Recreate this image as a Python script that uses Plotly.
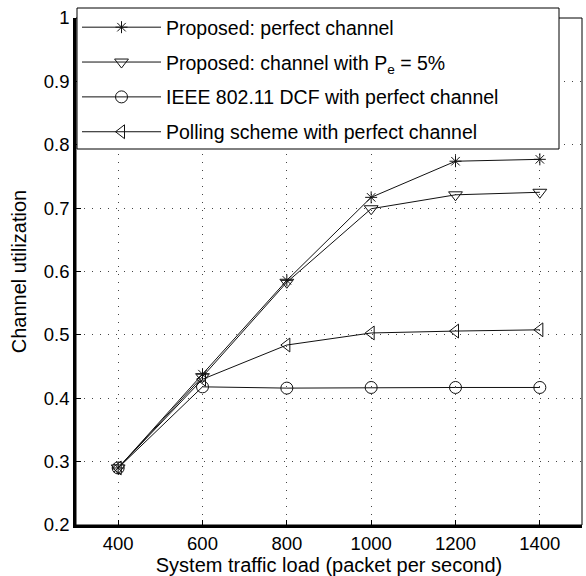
import plotly.graph_objects as go

load = [400, 600, 800, 1000, 1200, 1400]
proposed_perfect = [0.290, 0.438, 0.586, 0.717, 0.774, 0.777]
proposed_pe5 = [0.290, 0.434, 0.583, 0.699, 0.721, 0.725]
dcf_perfect = [0.290, 0.418, 0.416, 0.417, 0.417, 0.417]
polling_perfect = [0.290, 0.430, 0.484, 0.503, 0.506, 0.508]

names = [
    "Proposed: perfect channel",
    "Proposed: channel with P<sub>e</sub> = 5%",
    "IEEE 802.11 DCF with perfect channel",
    "Polling scheme with perfect channel",
]
series = [proposed_perfect, proposed_pe5, dcf_perfect, polling_perfect]
symbols = ["asterisk-open", "triangle-down-open", "circle-open", "triangle-left-open"]
sizes = [10, 12, 12, 12]

yticks = [0.2, 0.3, 0.4, 0.5, 0.6, 0.7, 0.8, 0.9, 1.0]
yticktext = ["0.2", "0.3", "0.4", "0.5", "0.6", "0.7", "0.8", "0.9", "1"]
xticks = [400, 600, 800, 1000, 1200, 1400]

FONT = "Liberation Sans"

fig = go.Figure()
for i, (nm, ys, sym, sz) in enumerate(zip(names, series, symbols, sizes)):
    fig.add_trace(go.Scatter(
        x=load, y=ys, name=nm, mode="lines+markers",
        line=dict(color="#111", width=1),
        marker=dict(symbol=sym, size=sz, color="#111", line=dict(width=1, color="#111")),
        legendgroup=f"g{i}",
    ))

fig.update_layout(
    width=586, height=576,
    margin=dict(l=76, r=4, t=18, b=51),
    paper_bgcolor="white", plot_bgcolor="white",
    font=dict(family=FONT, size=18.5, color="black"),
    showlegend=True,
    legend=dict(
        x=0.002, y=1.0197, xanchor="left", yanchor="top",
        bgcolor="rgba(0,0,0,0)", borderwidth=0,
        font=dict(size=19.5, family=FONT, color="black"),
        itemwidth=79, tracegroupgap=6.5, traceorder="grouped",
    ),
    xaxis=dict(
        range=[300, 1500], tickvals=xticks, ticks="inside", ticklen=5,
        tickcolor="black", showline=True, linecolor="black", linewidth=2.5,
        showgrid=True, gridcolor="#444", griddash="1px,7px", gridwidth=1,
        zeroline=False,
        tickfont=dict(family=FONT, size=18.5, color="black"),
        title=dict(text="System traffic load (packet per second)", standoff=3,
                   font=dict(family=FONT, size=20, color="black")),
    ),
    yaxis=dict(
        range=[0.2, 1.0], tickvals=yticks, ticktext=yticktext, ticks="inside", ticklen=5,
        tickcolor="black", showline=True, linecolor="black", linewidth=2.5,
        showgrid=True, gridcolor="#444", griddash="1px,7px", gridwidth=1,
        zeroline=False,
        tickfont=dict(family=FONT, size=18.5, color="black"),
        title=dict(text="Channel utilization", standoff=12,
                   font=dict(family=FONT, size=20, color="black")),
    ),
    shapes=[
        dict(type="rect", xref="paper", yref="paper", x0=0, x1=1, y0=0, y1=1,
             line=dict(color="black", width=1), layer="above"),
        dict(type="rect", xref="paper", yref="paper",
             x0=(77 - 76) / 506, x1=(559 - 76) / 506,
             y0=(525 - 149) / 507, y1=(525 - 8) / 507,
             line=dict(color="black", width=1), fillcolor="white", layer="above"),
    ],
)

fig.write_html("out.html")
